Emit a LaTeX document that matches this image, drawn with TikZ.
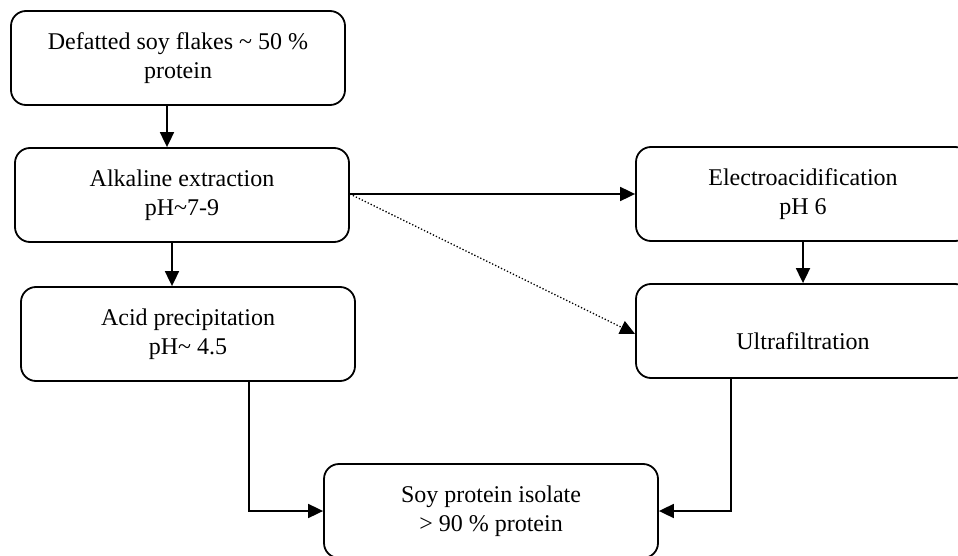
\documentclass[tikz,border=0pt]{standalone}
\usepackage{fontspec}
\setmainfont{Liberation Serif}
\usetikzlibrary{arrows.meta}

\tikzset{every picture/.style={line width=1.8pt}}
\tikzset{
  stagebox/.style={draw, rounded corners=15pt, minimum width=334pt, minimum height=94pt,
    inner sep=0pt, align=center, font=\fontsize{24}{29}\selectfont},
  flowarrow/.style={-{Triangle[length=15pt,width=14pt]}},
  sidearrow/.style={flowarrow, dotted, line width=1.3pt}
}

\begin{document}
\begin{tikzpicture}[x=1pt,y=1pt,yscale=-1,xscale=1]
\useasboundingbox (0,0) rectangle (958,556);

%Rounded Rect
\node [stagebox] (flakes) at (178,58) {Defatted soy flakes \textasciitilde{} 50 \%\\protein};
%Rounded Rect
\node [stagebox] (alkaline) at (182,195) {Alkaline extraction\\pH\textasciitilde 7-9};
%Rounded Rect
\node [stagebox] (acid) at (188,334) {Acid precipitation\\pH\textasciitilde{} 4.5};
%Rounded Rect
\node [stagebox] (electro) at (803,194) {Electroacidification\\pH 6};
%Rounded Rect
\node [stagebox] (ultra) at (803,331) {\mbox{}\\[8pt]Ultrafiltration};
%Rounded Rect
\node [stagebox] (isolate) at (491,511) {Soy protein isolate\\> 90 \% protein};

\coordinate (fork) at (alkaline.east |- electro.west);

%Straight Lines
\draw [flowarrow] ([xshift=-11pt]flakes.south) -- ([xshift=-11pt]flakes.south |- alkaline.north);
\draw [flowarrow] ([xshift=-10pt]alkaline.south) -- ([xshift=-10pt]alkaline.south |- acid.north);
\draw [flowarrow] (fork) -- (electro.west);
\draw [sidearrow] (fork) -- ([yshift=3pt]ultra.west);
\draw [flowarrow] (electro.south) -- (ultra.north);
%Elbow Lines
\draw [flowarrow] ([xshift=61pt]acid.south) |- (isolate.west);
\draw [flowarrow] ([xshift=-72pt]ultra.south) |- (isolate.east);
\end{tikzpicture}
\end{document}
